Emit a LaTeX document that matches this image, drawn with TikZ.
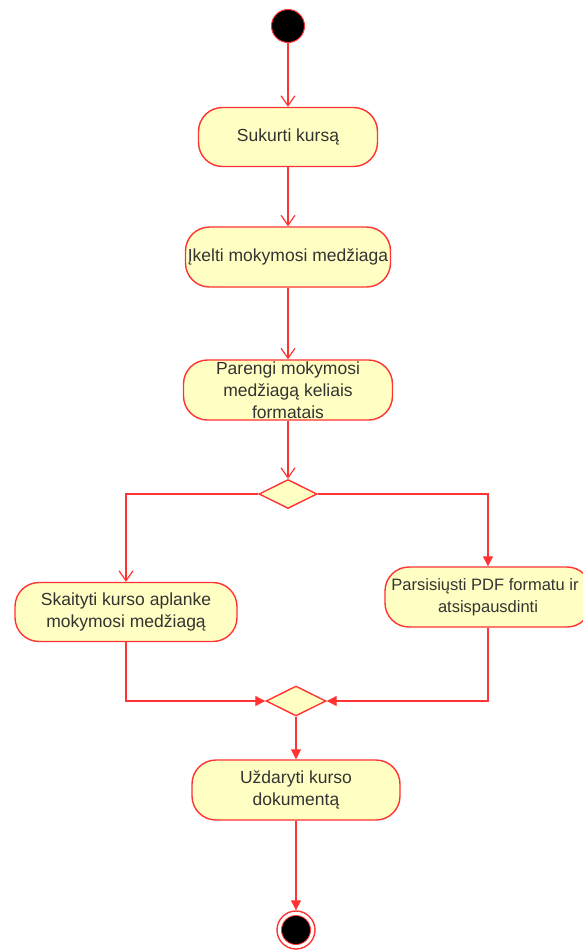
\documentclass[tikz,border=0pt]{standalone}
\usepackage{fontspec}
\setmainfont{Liberation Sans}
\usetikzlibrary{shapes.geometric,arrows.meta}

\definecolor{umlred}{HTML}{FF3333}
\definecolor{umlfill}{HTML}{FFFFC3}

\begin{document}
\begin{tikzpicture}[x=1pt,y=-1pt,
	act/.style={draw=umlred, fill=umlfill, line width=1.4pt, rounded corners=24pt, inner sep=0pt, align=center, font=\fontsize{17.5}{22}\selectfont, text=black!80},
	dec/.style={draw=umlred, fill=umlfill, line width=1.4pt, diamond, aspect=2, inner sep=0pt},
	flowo/.style={draw=umlred, line width=1.2pt, -{Straight Barb[length=10pt,width=14pt]}},
	flowf/.style={draw=umlred, line width=1.2pt, -{Triangle[length=10pt,width=10pt]}}]

	\useasboundingbox (0,0) rectangle (582,951);

	% Start and end
	\node (start) [circle, draw=umlred, fill=black, line width=1pt, minimum size=33pt, inner sep=0pt] at (288,26) {};
	\node (end) [circle, draw=umlred, fill=white, line width=1.4pt, minimum size=38pt, inner sep=0pt] at (296,930) {};
	\fill [black, draw=umlred, line width=0.8pt] (end) circle (14.5pt);

	% Actions
	\node (a1) [act, minimum width=179pt, minimum height=59pt] at (288,137) {Sukurti kursą};
	\node (a2) [act, minimum width=205pt, minimum height=60pt] at (288,257) {Įkelti mokymosi medžiaga};
	\node (a3) [act, minimum width=209pt, minimum height=60pt] at (288,390) {Parengi mokymosi\\medžiagą keliais\\formatais};
	\node (a4) [act, minimum width=222pt, minimum height=59pt] at (126,612) {Skaityti kurso aplanke\\mokymosi medžiagą};
	\node (a5) [act, minimum width=206pt, minimum height=60pt, font=\fontsize{16.5}{22}\selectfont] at (488,597) {\hspace*{-6pt}Parsisiųsti PDF formatu ir\\atsispausdinti};
	\node (a6) [act, minimum width=208pt, minimum height=60pt] at (296,790) {Uždaryti kurso\\dokumentą};

	% Decisions
	\node (d1) [dec, minimum width=58pt, minimum height=29pt] at (288,494) {};
	\node (d2) [dec, minimum width=60pt, minimum height=30pt] at (296,701) {};

	% Flows
	\draw [flowo] (start) -- (a1);
	\draw [flowo] (a1) -- (a2);
	\draw [flowo] (a2) -- (a3);
	\draw [flowo] (a3) -- (d1);
	\draw [flowo] (d1.west) -| (a4.north);
	\draw [flowf] (d1.east) -| (a5.north);
	\draw [flowf] (a4.south) |- (d2.west);
	\draw [flowf] (a5.south) |- (d2.east);
	\draw [flowf] (d2) -- (a6);
	\draw [flowf] (a6) -- (end);

\end{tikzpicture}
\end{document}
